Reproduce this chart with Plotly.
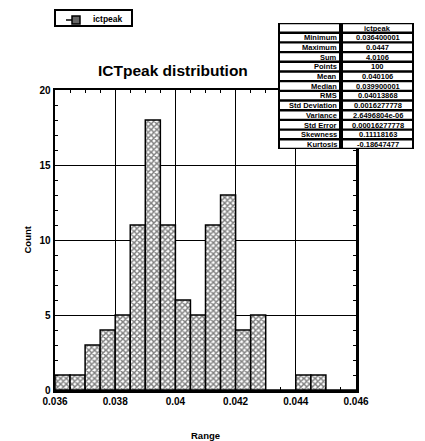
import plotly.graph_objects as go

# ---- data ----
bin_left = [0.036, 0.0365, 0.037, 0.0375, 0.038, 0.0385, 0.039, 0.0395, 0.040, 0.0405,
            0.041, 0.0415, 0.042, 0.0425, 0.043, 0.0435, 0.044, 0.0445, 0.045, 0.0455]
counts = [1, 1, 3, 4, 5, 11, 18, 11, 6, 5, 11, 13, 4, 5, 0, 0, 1, 1, 0, 0]
bin_width = 0.0005

x_tickvals = [0.036, 0.038, 0.040, 0.042, 0.044, 0.046]
x_ticktext = ["0.036", "0.038", "0.04", "0.042", "0.044", "0.046"]
y_tickvals = [0, 5, 10, 15, 20]

stat_names = ["Minimum", "Maximum", "Sum", "Points", "Mean", "Median", "RMS",
              "Std Deviation", "Variance", "Std Error", "Skewness", "Kurtosis"]
stat_values = ["0.036400001", "0.0447", "4.0106", "100", "0.040106", "0.039900001",
               "0.04013868", "0.0016277778", "2.6496804e-06", "0.00016277778",
               "0.11118163", "-0.18647477"]
series_name = "ictpeak"

W, H = 425, 441
FONT = "Liberation Sans, Arial, sans-serif"


def px(x):
    return x / W


def py(y):
    return 1 - y / H


fig = go.Figure()
fig.add_trace(go.Bar(
    x=bin_left, y=counts, width=bin_width, offset=0, name=series_name,
    marker=dict(color="white", line=dict(color="black", width=1.5),
                pattern=dict(shape="x", size=4, solidity=0.6,
                             fgcolor="black", bgcolor="white")),
    showlegend=False,
))

shapes = []
annotations = []

# ---- statistics table (drawn as shapes + text) ----
tx0, tx1, tdiv = 278, 414, 341
ty0, ty1 = 23, 149
rows = [("", series_name)] + list(zip(stat_names, stat_values))
rh = (ty1 - ty0) / len(rows)
shapes.append(dict(type="rect", xref="paper", yref="paper",
                   x0=px(tx0), x1=px(tx1), y0=py(ty1), y1=py(ty0),
                   fillcolor="black", line=dict(width=0), layer="above"))
ins = 1.2
for i, (name, val) in enumerate(rows):
    r0 = ty0 + i * rh
    r1 = r0 + rh
    for (c0, c1) in [(tx0, tdiv), (tdiv, tx1)]:
        shapes.append(dict(type="rect", xref="paper", yref="paper",
                           x0=px(c0 + ins + 0.8), x1=px(c1 - ins - 0.8),
                           y0=py(r1 - ins), y1=py(r0 + ins),
                           fillcolor="white", line=dict(width=0), layer="above"))
    ym = py((r0 + r1) / 2 + 0.3)
    if name:
        annotations.append(dict(text=name, x=px(tdiv - 2.5), y=ym, xref="paper",
                                yref="paper", xanchor="right", yanchor="middle",
                                showarrow=False,
                                font=dict(family=FONT, size=7.5, color="black",
                                          weight="bold")))
    annotations.append(dict(text=val, x=px((tdiv + tx1) / 2), y=ym, xref="paper",
                            yref="paper", xanchor="center", yanchor="middle",
                            showarrow=False,
                            font=dict(family=FONT, size=7.5, color="black",
                                      weight="bold")))

# ---- legend box ----
shapes.append(dict(type="rect", xref="paper", yref="paper",
                   x0=px(55), x1=px(132), y0=py(26), y1=py(10),
                   fillcolor="white", line=dict(color="black", width=2)))
shapes.append(dict(type="line", xref="paper", yref="paper",
                   x0=px(66), x1=px(72), y0=py(20), y1=py(20),
                   line=dict(color="black", width=1.5)))
shapes.append(dict(type="rect", xref="paper", yref="paper",
                   x0=px(72), x1=px(80), y0=py(24), y1=py(16),
                   fillcolor="#666666", line=dict(color="black", width=1.5)))
annotations.append(dict(text=series_name, x=px(91), y=py(18.5), xref="paper",
                        yref="paper", xanchor="left", yanchor="middle",
                        showarrow=False,
                        font=dict(family=FONT, size=8.5, color="black", weight="bold")))

# ---- titles ----
annotations += [
    dict(text="ICTpeak distribution", x=px(172.5), y=py(70), xref="paper",
         yref="paper", showarrow=False, yanchor="middle",
         font=dict(family=FONT, size=15.5, color="black", weight="bold")),
    dict(text="Count", x=px(19), y=py(240), xref="paper", yref="paper",
         textangle=-90, showarrow=False,
         font=dict(family=FONT, size=9.5, color="black", weight="bold")),
    dict(text="Range", x=px(205), y=py(435), xref="paper", yref="paper",
         showarrow=False, yanchor="middle",
         font=dict(family=FONT, size=9.5, color="black", weight="bold")),
]

axis_common = dict(
    showline=True, linecolor="black", linewidth=2.5, mirror="allticks",
    showgrid=True, gridcolor="black", gridwidth=1, zeroline=False,
    ticks="inside", ticklen=3, tickcolor="black", automargin=False,
    tickfont=dict(family=FONT, size=10, color="black", weight="bold"),
)

fig.update_layout(
    width=W, height=H,
    margin=dict(l=0, r=0, t=0, b=0),
    paper_bgcolor="white", plot_bgcolor="white",
    bargap=0,
    showlegend=False,
    hovermode=False,
    xaxis=dict(domain=[px(55), px(356)], range=[0.036, 0.046],
               tickvals=x_tickvals, ticktext=x_ticktext,
               minor=dict(dtick=0.0005, tick0=0.036, ticks="inside", ticklen=3,
                          tickcolor="black", showgrid=False),
               **axis_common),
    yaxis=dict(domain=[py(390), py(90)], range=[0, 20],
               tickvals=y_tickvals,
               minor=dict(dtick=1, ticks="inside", ticklen=3,
                          tickcolor="black", showgrid=False),
               **axis_common),
    shapes=shapes,
    annotations=annotations,
)

fig.write_html("out.html",
               config={"displayModeBar": False, "staticPlot": True},
               post_script="document.body.style.margin='0';"
                           "document.body.style.overflow='hidden';")
